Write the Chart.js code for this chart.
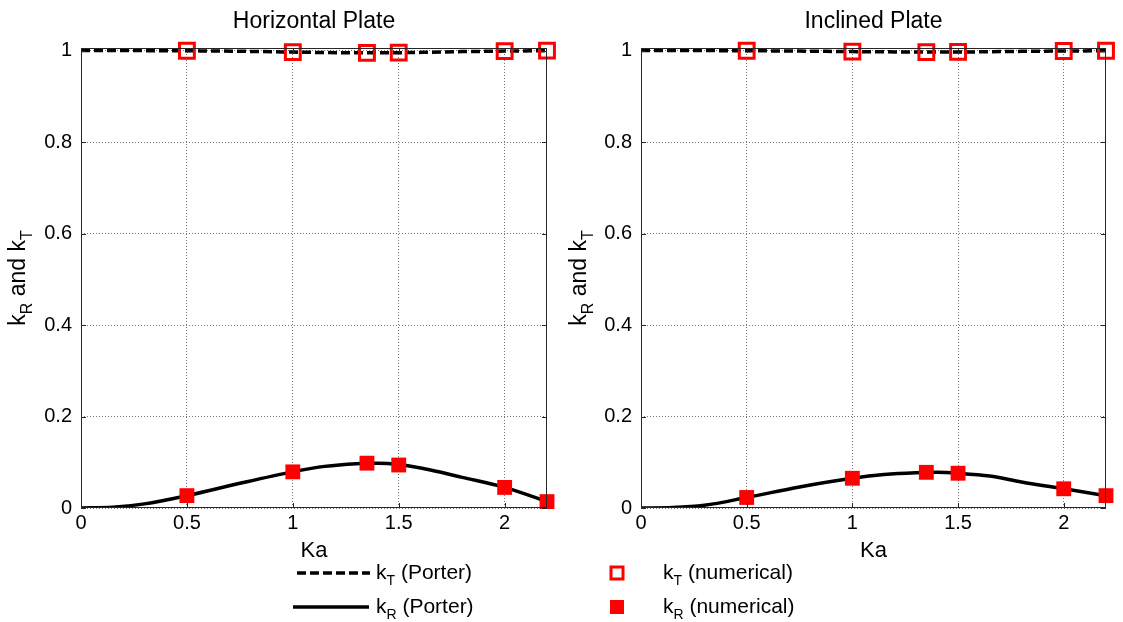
<!DOCTYPE html>
<html>
<head>
<meta charset="utf-8">
<script src="https://cdn.jsdelivr.net/npm/chart.js@4.4.1/dist/chart.umd.min.js"></script>
<style>
  html, body { margin: 0; padding: 0; background: #fff; }
  #wrap { position: relative; width: 1123px; height: 622px; }
  canvas { position: absolute; top: 0; }
</style>
</head>
<body>
<div id="wrap">
  <canvas id="left" width="561" height="622" style="left:0"></canvas>
  <canvas id="right" width="562" height="622" style="left:561px"></canvas>
</div>
<script>
// x positions (Ka)
const kaCurve = [0, 0.15, 0.3, 0.5, 0.75, 1, 1.15, 1.3, 1.4, 1.5, 1.65, 1.8, 2, 2.2];
const kaNum = [0.5, 1, 1.35, 1.5, 2, 2.2];

const xTicks = [0, 0.5, 1, 1.5, 2];
const xTickLabels = ["0", "0.5", "1", "1.5", "2"];
const yTicks = [0, 0.2, 0.4, 0.6, 0.8, 1];
const yTickLabels = ["0", "0.2", "0.4", "0.6", "0.8", "1"];

// Horizontal plate
const horizKtPorter = [1, 1, 0.99996, 0.9996, 0.9985, 0.9968, 0.9958, 0.9953, 0.9952, 0.9954, 0.9965, 0.9978, 0.9989, 0.9999];
const horizKrPorter = [0, 0.0015, 0.009, 0.027, 0.054, 0.079, 0.091, 0.097, 0.098, 0.095, 0.083, 0.067, 0.045, 0.014];
const horizKtNum = [0.9996, 0.9968, 0.9951, 0.9955, 0.999, 0.9999];
const horizKrNum = [0.027, 0.079, 0.098, 0.094, 0.045, 0.014];

// Inclined plate
const inclKtPorter = [1, 1, 1, 0.9997, 0.9989, 0.9978, 0.9973, 0.997, 0.9969, 0.997, 0.9975, 0.9984, 0.9991, 0.9996];
const inclKrPorter = [0, 0.001, 0.006, 0.023, 0.046, 0.065, 0.073, 0.077, 0.078, 0.076, 0.070, 0.057, 0.042, 0.027];
const inclKtNum = [0.9997, 0.9978, 0.9968, 0.9971, 0.9991, 0.9996];
const inclKrNum = [0.023, 0.065, 0.078, 0.076, 0.042, 0.027];

const FONT = '"Liberation Sans", Arial, sans-serif';

function pts(xs, ys) { return xs.map((x, i) => ({ x: x, y: ys[i] })); }

// text with subscripts: parts = [[text, isSub], ...]
function richText(ctx, parts, x, y, size, align) {
  const subSize = Math.round(size * 0.68);
  let w = 0;
  parts.forEach(p => {
    ctx.font = (p[1] ? subSize : size) + 'px ' + FONT;
    w += ctx.measureText(p[0]).width;
  });
  let cx = align === 'center' ? x - w / 2 : x;
  ctx.textBaseline = 'alphabetic';
  ctx.textAlign = 'left';
  parts.forEach(p => {
    ctx.font = (p[1] ? subSize : size) + 'px ' + FONT;
    ctx.fillText(p[0], cx, p[1] ? y + size * 0.3 : y);
    cx += ctx.measureText(p[0]).width;
  });
}

const decor = {
  id: 'decor',
  afterDraw(chart, args, o) {
    const ctx = chart.ctx, a = chart.chartArea;
    const xs = chart.scales.x, ys = chart.scales.y;
    ctx.save();
    // box and inward ticks
    ctx.strokeStyle = '#262626';
    ctx.lineWidth = 1;
    ctx.setLineDash([]);
    ctx.strokeRect(a.left + 0.5, a.top + 0.5, a.right - a.left - 1, a.bottom - a.top - 1);
    ctx.beginPath();
    xTicks.forEach(v => {
      const px = Math.round(xs.getPixelForValue(v)) + 0.5;
      ctx.moveTo(px, a.bottom); ctx.lineTo(px, a.bottom - 5);
      ctx.moveTo(px, a.top); ctx.lineTo(px, a.top + 5);
    });
    yTicks.forEach(v => {
      const py = Math.round(ys.getPixelForValue(v)) + 0.5;
      ctx.moveTo(a.left, py); ctx.lineTo(a.left + 5, py);
      ctx.moveTo(a.right, py); ctx.lineTo(a.right - 5, py);
    });
    ctx.stroke();

    ctx.fillStyle = '#000';
    const mid = (a.left + a.right) / 2;
    // title
    ctx.font = '23px ' + FONT;
    ctx.textAlign = 'center';
    ctx.textBaseline = 'alphabetic';
    ctx.fillText(o.title, mid, 28);
    // x axis title
    ctx.font = '22px ' + FONT;
    ctx.fillText('Ka', mid, 557);
    // y axis title
    ctx.save();
    ctx.translate(o.yTitleX, (a.top + a.bottom) / 2);
    ctx.rotate(-Math.PI / 2);
    richText(ctx, [['k', 0], ['R', 1], [' and k', 0], ['T', 1]], 0, 0, 23, 'center');
    ctx.restore();

    // legend entries
    (o.legend || []).forEach(it => {
      ctx.save();
      if (it.kind === 'dash' || it.kind === 'solid') {
        ctx.strokeStyle = '#000';
        ctx.lineWidth = 3.5;
        ctx.setLineDash(it.kind === 'dash' ? [9, 4] : []);
        ctx.beginPath();
        ctx.moveTo(it.x0, it.y); ctx.lineTo(it.x1, it.y);
        ctx.stroke();
      } else if (it.kind === 'open') {
        ctx.strokeStyle = '#ff0000';
        ctx.lineWidth = 3;
        ctx.strokeRect(it.x0 - 6, it.y - 6, 12, 12);
      } else {
        ctx.fillStyle = '#ff0000';
        ctx.fillRect(it.x0 - 7, it.y - 7, 14, 14);
      }
      ctx.restore();
      ctx.fillStyle = '#000';
      richText(ctx, [['k', 0], [it.sub, 1], [it.rest, 0]], it.tx, it.y + 6, 21, 'left');
    });
    ctx.restore();
  }
};

function makeChart(id, title, ktP, krP, ktN, krN, padRight, yWidth, legend) {
  return new Chart(document.getElementById(id), {
    type: 'scatter',
    data: {
      datasets: [
        { label: 'kT (numerical)', data: pts(kaNum, ktN), pointStyle: 'rect', pointRadius: 10.5,
          borderColor: '#ff0000', backgroundColor: 'rgba(0,0,0,0)', borderWidth: 3, clip: false, order: 1 },
        { label: 'kR (numerical)', data: pts(kaNum, krN), pointStyle: 'rect', pointRadius: 10.5,
          borderColor: '#ff0000', backgroundColor: '#ff0000', borderWidth: 0, clip: false, order: 1 },
        { label: 'kT (Porter)', data: pts(kaCurve, ktP), showLine: true, pointRadius: 0,
          borderColor: '#000', borderWidth: 3.5, borderDash: [9, 4], cubicInterpolationMode: 'monotone', order: 2 },
        { label: 'kR (Porter)', data: pts(kaCurve, krP), showLine: true, pointRadius: 0,
          borderColor: '#000', borderWidth: 3.5, cubicInterpolationMode: 'monotone', order: 2 }
      ]
    },
    options: {
      responsive: false,
      animation: false,
      layout: { padding: { top: 48, right: padRight, left: 0, bottom: 0 } },
      plugins: {
        legend: { display: false },
        tooltip: { enabled: false },
        decor: { title: title, yTitleX: 25, legend: legend }
      },
      scales: {
        x: {
          type: 'linear', min: 0, max: 2.2,
          afterBuildTicks: s => { s.ticks = xTicks.map(v => ({ value: v })); },
          afterFit: s => { s.height = 114; },
          ticks: { padding: 3, color: '#000', font: { family: FONT, size: 20 },
                   callback: (v, i) => xTickLabels[i] },
          grid: { color: 'rgba(0,0,0,0.55)', lineWidth: 1, drawTicks: false },
          border: { display: false, dash: [1, 2] }
        },
        y: {
          type: 'linear', min: 0, max: 1.0057,
          afterBuildTicks: s => { s.ticks = yTicks.map(v => ({ value: v })); },
          afterFit: s => { s.width = yWidth; },
          ticks: { padding: 9, color: '#000', font: { family: FONT, size: 20 },
                   callback: (v, i) => yTickLabels[i] },
          grid: { color: 'rgba(0,0,0,0.55)', lineWidth: 1, drawTicks: false },
          border: { display: false, dash: [1, 2] }
        }
      }
    },
    plugins: [decor]
  });
}

makeChart('left', 'Horizontal Plate', horizKtPorter, horizKrPorter, horizKtNum, horizKrNum, 14, 81, [
  { kind: 'dash', x0: 297, x1: 370, y: 573, tx: 376, sub: 'T', rest: ' (Porter)' },
  { kind: 'solid', x0: 293, x1: 369, y: 607, tx: 376, sub: 'R', rest: ' (Porter)' }
]);
makeChart('right', 'Inclined Plate', inclKtPorter, inclKrPorter, inclKtNum, inclKrNum, 17, 80, [
  { kind: 'open', x0: 56, y: 573, tx: 102, sub: 'T', rest: ' (numerical)' },
  { kind: 'filled', x0: 56, y: 607, tx: 102, sub: 'R', rest: ' (numerical)' }
]);
</script>
</body>
</html>
